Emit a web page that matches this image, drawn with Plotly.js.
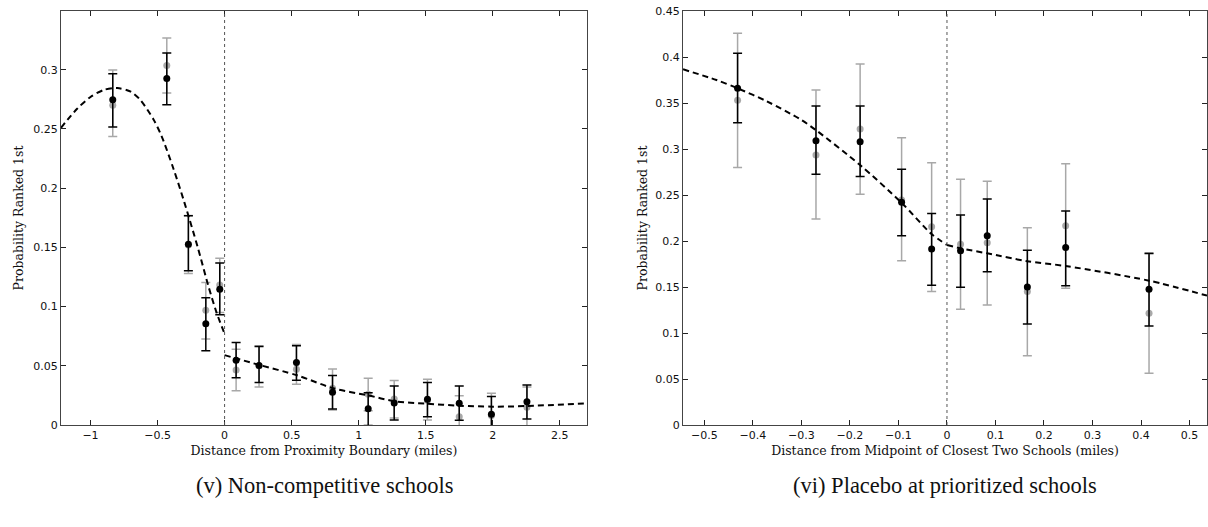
<!DOCTYPE html>
<html>
<head>
<meta charset="utf-8">
<script src="https://cdn.plot.ly/plotly-3.0.1.min.js"></script>
<style>
html,body{margin:0;padding:0;background:#fff;}
#chart{width:1208px;height:527px;}
</style>
</head>
<body>
<div id="chart"></div>
<script>
// ---------- Panel (v): Non-competitive schools ----------
const vX      = [-0.834, -0.431, -0.27, -0.14, -0.036, 0.086, 0.257, 0.536, 0.805, 1.071, 1.265, 1.513, 1.75, 1.99, 2.255];
const vBlack  = [0.2747, 0.2925, 0.1527, 0.0854, 0.1147, 0.0547, 0.0502, 0.0527, 0.0276, 0.0138, 0.0186, 0.0217, 0.0183, 0.009, 0.0197];
const vBlackHi= [0.2967, 0.3142, 0.1767, 0.1074, 0.1367, 0.0696, 0.0662, 0.067, 0.0417, 0.0273, 0.033, 0.0358, 0.033, 0.024, 0.0338];
const vBlackLo= [0.2516, 0.2705, 0.1302, 0.0626, 0.093, 0.040, 0.0358, 0.0378, 0.0135, -0.0005, 0.0042, 0.007, 0.004, -0.006, 0.005];
const vGray   = [0.270, 0.3035, 0.152, 0.097, 0.1183, 0.0465, 0.050, 0.047, 0.031, 0.026, 0.022, 0.021, 0.007, 0.008, 0.015];
const vGrayHi = [0.2998, 0.3269, 0.177, 0.1203, 0.1409, 0.064, 0.067, 0.068, 0.0473, 0.0395, 0.0375, 0.0386, 0.0248, 0.0268, 0.032];
const vGrayLo = [0.2437, 0.2804, 0.128, 0.0727, 0.095, 0.029, 0.032, 0.0344, 0.0127, 0.012, 0.006, 0.0042, -0.01, -0.01, -0.002];
const vFitLX  = [-1.22, -1.1, -1.0, -0.9, -0.8, -0.7, -0.63, -0.53, -0.47, -0.38, -0.3, -0.2, -0.12, -0.06, 0];
const vFitLY  = [0.251, 0.267, 0.277, 0.283, 0.2845, 0.2815, 0.2747, 0.258, 0.244, 0.216, 0.188, 0.150, 0.117, 0.095, 0.077];
const vFitRX  = [0, 0.25, 0.54, 0.81, 1.07, 1.27, 1.5, 1.75, 2.0, 2.25, 2.7];
const vFitRY  = [0.059, 0.051, 0.042, 0.031, 0.025, 0.020, 0.018, 0.0163, 0.0155, 0.016, 0.0183];

// ---------- Panel (vi): Placebo at prioritized schools ----------
const wX      = [-0.4316, -0.270, -0.179, -0.0935, -0.0316, 0.028, 0.083, 0.1657, 0.2447, 0.4165];
const wBlack  = [0.366, 0.309, 0.308, 0.242, 0.1913, 0.1895, 0.2058, 0.150, 0.1928, 0.1475];
const wBlackHi= [0.404, 0.3467, 0.3467, 0.278, 0.230, 0.2283, 0.2457, 0.190, 0.2326, 0.1866];
const wBlackLo= [0.3286, 0.2725, 0.270, 0.2058, 0.152, 0.1497, 0.1667, 0.1098, 0.1514, 0.1076];
const wGray   = [0.353, 0.2935, 0.3217, 0.2446, 0.2156, 0.1964, 0.198, 0.145, 0.2167, 0.1214];
const wGrayHi = [0.4257, 0.364, 0.3924, 0.3123, 0.285, 0.267, 0.265, 0.2145, 0.284, 0.186];
const wGrayLo = [0.280, 0.224, 0.2508, 0.1786, 0.145, 0.1257, 0.1304, 0.0754, 0.1486, 0.0562];
const wFitLX  = [-0.544, -0.475, -0.4316, -0.372, -0.303, -0.27, -0.179, -0.0935, -0.0316, 0];
const wFitLY  = [0.3866, 0.375, 0.366, 0.352, 0.3325, 0.3205, 0.2825, 0.2415, 0.2075, 0.1957];
const wFitRX  = [0, 0.028, 0.083, 0.1657, 0.2447, 0.4165, 0.536];
const wFitRY  = [0.1957, 0.192, 0.1866, 0.178, 0.1728, 0.1569, 0.1406];

// ---------- Text ----------
const yTitle = "Probability Ranked 1st";
const vXTitle = "Distance from Proximity Boundary (miles)";
const wXTitle = "Distance from Midpoint of Closest Two Schools (miles)";
const vCaption = "(v) Non-competitive schools";
const wCaption = "(vi) Placebo at prioritized schools";

const up = (hi, y) => hi.map((h, i) => h - y[i]);
const dn = (lo, y) => lo.map((l, i) => y[i] - l);

function pointTrace(x, y, hi, lo, color, xa, ya) {
  return {
    type: 'scatter', mode: 'markers', x: x, y: y, xaxis: xa, yaxis: ya,
    marker: {color: color, size: 7},
    error_y: {type: 'data', symmetric: false, array: up(hi, y), arrayminus: dn(lo, y),
              color: color, thickness: 1.5, width: 4.5},
    showlegend: false, hoverinfo: 'x+y', cliponaxis: true
  };
}
function fitTrace(x, y, xa, ya, shape) {
  return {
    type: 'scatter', mode: 'lines', x: x, y: y, xaxis: xa, yaxis: ya,
    line: {color: '#000', width: 2, dash: '6px,4px', shape: shape, smoothing: 0.8},
    showlegend: false, hoverinfo: 'skip'
  };
}

const grayC = '#a8a8a8';
const data = [
  pointTrace(vX, vGray, vGrayHi, vGrayLo, grayC, 'x', 'y'),
  pointTrace(wX, wGray, wGrayHi, wGrayLo, grayC, 'x2', 'y2'),
  fitTrace(vFitLX, vFitLY, 'x', 'y', 'spline'),
  fitTrace(vFitRX, vFitRY, 'x', 'y', 'spline'),
  fitTrace(wFitLX, wFitLY, 'x2', 'y2', 'spline'),
  fitTrace(wFitRX, wFitRY, 'x2', 'y2', 'spline'),
  pointTrace(vX, vBlack, vBlackHi, vBlackLo, '#000', 'x', 'y'),
  pointTrace(wX, wBlack, wBlackHi, wBlackLo, '#000', 'x2', 'y2')
];

const tickFont = {family: 'DejaVu Sans', size: 11, color: '#111'};
const titleFont = {family: 'DejaVu Serif', size: 12.5, color: '#111'};
const axBase = {
  showline: true, mirror: 'ticks', linecolor: '#444', linewidth: 1,
  ticks: 'inside', ticklen: 5, tickcolor: '#222', tickwidth: 1,
  showgrid: false, zeroline: false, tickfont: tickFont
};

const layout = {
  width: 1208, height: 527,
  margin: {l: 61, r: 1, t: 11, b: 102},
  paper_bgcolor: '#fff', plot_bgcolor: '#fff',
  xaxis: Object.assign({}, axBase, {domain: [0, 0.459], range: [-1.22, 2.703], tick0: 0, dtick: 0.5,
          anchor: 'y', title: {text: vXTitle, font: titleFont, standoff: 5}}),
  yaxis: Object.assign({}, axBase, {domain: [0, 1], range: [0, 0.3496], tick0: 0, dtick: 0.05,
          anchor: 'x', title: {text: yTitle, font: titleFont, standoff: 6}}),
  xaxis2: Object.assign({}, axBase, {domain: [0.5428, 1], range: [-0.544, 0.536], tick0: 0, dtick: 0.1,
          anchor: 'y2', title: {text: wXTitle, font: titleFont, standoff: 5}}),
  yaxis2: Object.assign({}, axBase, {domain: [0, 1], range: [0, 0.45], tick0: 0, dtick: 0.05,
          anchor: 'x2', title: {text: yTitle, font: titleFont, standoff: 4}}),
  shapes: [
    {type: 'line', xref: 'x', yref: 'y domain', x0: 0, x1: 0, y0: 0, y1: 1,
     line: {color: '#555', width: 1, dash: 'dot'}},
    {type: 'line', xref: 'x2', yref: 'y2 domain', x0: 0, x1: 0, y0: 0, y1: 1,
     line: {color: '#555', width: 1, dash: 'dot'}}
  ],
  annotations: [
    {text: vCaption, xref: 'x domain', yref: 'paper', x: 0.5, y: -0.145, xanchor: 'center', yanchor: 'middle',
     showarrow: false, font: {family: 'Liberation Serif', size: 22.5, color: '#111'}},
    {text: wCaption, xref: 'x2 domain', yref: 'paper', x: 0.5, y: -0.145, xanchor: 'center', yanchor: 'middle',
     showarrow: false, font: {family: 'Liberation Serif', size: 22.5, color: '#111'}}
  ]
};

Plotly.newPlot('chart', data, layout, {displayModeBar: false, staticPlot: true});
</script>
</body>
</html>
